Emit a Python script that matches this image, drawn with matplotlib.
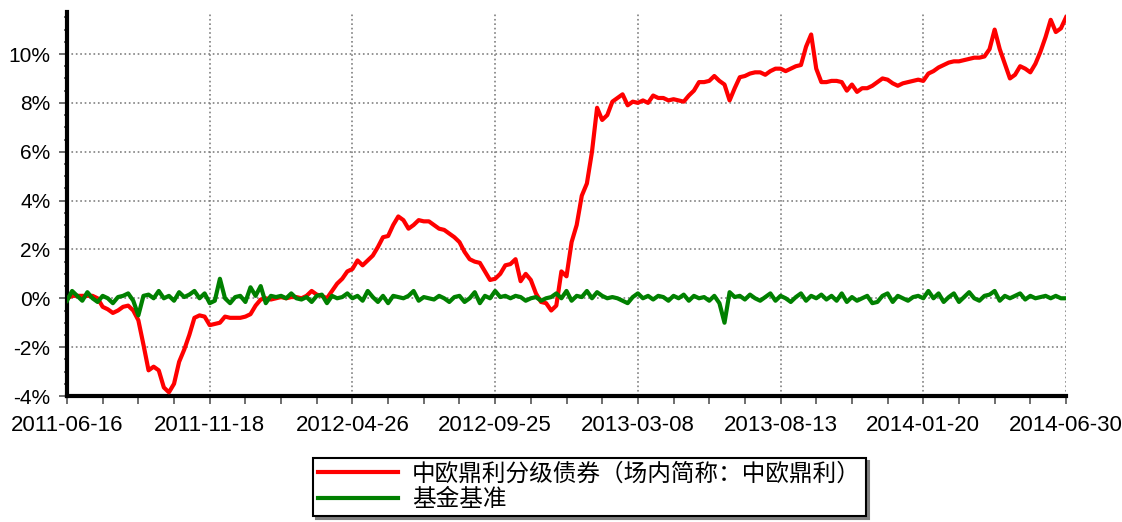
import numpy as np
import matplotlib
matplotlib.use('Agg')
import matplotlib.pyplot as plt
from matplotlib.ticker import FixedLocator, MultipleLocator, FuncFormatter

# trading-day samples (every ~3.8 trading days), cumulative return in %
tick_labels = ['2011-06-16', '2011-11-18', '2012-04-26', '2012-09-25',
               '2013-03-08', '2013-08-13', '2014-01-20', '2014-06-30']

fund = [
    0.0, 0.1, 0.1, 0.1, 0.1, 0.1, 0.0, -0.35, -0.45, -0.6,
    -0.5, -0.35, -0.3, -0.5, -0.9, -1.9, -2.95, -2.8, -2.95, -3.65,
    -3.85, -3.5, -2.6, -2.1, -1.5, -0.8, -0.7, -0.75, -1.1, -1.05,
    -1.0, -0.75, -0.8, -0.8, -0.8, -0.75, -0.65, -0.3, -0.05, 0.0,
    -0.05, 0.0, 0.05, 0.0, 0.05, 0.05, 0.0, 0.1, 0.3, 0.15,
    0.1, 0.0, 0.3, 0.6, 0.8, 1.1, 1.2, 1.55, 1.35, 1.55,
    1.75, 2.1, 2.5, 2.55, 3.0, 3.35, 3.2, 2.85, 3.0, 3.2,
    3.15, 3.15, 3.0, 2.85, 2.8, 2.65, 2.5, 2.3, 1.9, 1.6,
    1.5, 1.45, 1.1, 0.75, 0.8, 1.0, 1.35, 1.4, 1.6, 0.7,
    1.0, 0.75, 0.2, -0.15, -0.2, -0.5, -0.3, 1.1, 0.9, 2.3,
    3.0, 4.2, 4.7, 6.0, 7.8, 7.3, 7.5, 8.05, 8.2, 8.35,
    7.9, 8.05, 8.0, 8.1, 8.0, 8.3, 8.2, 8.2, 8.1, 8.15,
    8.1, 8.05, 8.3, 8.5, 8.85, 8.85, 8.9, 9.1, 8.9, 8.75,
    8.1, 8.6, 9.05, 9.1, 9.2, 9.25, 9.25, 9.15, 9.3, 9.4,
    9.4, 9.3, 9.4, 9.5, 9.55, 10.3, 10.8, 9.4, 8.85, 8.85,
    8.9, 8.9, 8.85, 8.5, 8.75, 8.45, 8.6, 8.6, 8.7, 8.85,
    9.0, 8.95, 8.8, 8.7, 8.8, 8.85, 8.9, 8.95, 8.9, 9.2,
    9.3, 9.45, 9.55, 9.65, 9.7, 9.7, 9.75, 9.8, 9.85, 9.85,
    9.9, 10.2, 11.0, 10.2, 9.6, 9.0, 9.15, 9.5, 9.4, 9.25,
    9.6, 10.1, 10.7, 11.4, 10.9, 11.05, 11.5,
]

bench = [
    -0.1, 0.3, 0.1, -0.1, 0.25, 0.0, -0.15, 0.1, 0.0, -0.2,
    0.05, 0.1, 0.2, -0.1, -0.7, 0.1, 0.15, 0.0, 0.3, 0.0,
    0.1, -0.1, 0.25, 0.05, 0.15, 0.3, 0.0, 0.2, -0.2, -0.1,
    0.8, 0.0, -0.2, 0.05, 0.1, -0.15, 0.45, 0.1, 0.5, -0.2,
    0.1, 0.05, 0.1, 0.0, 0.2, 0.0, -0.05, 0.05, -0.15, 0.1,
    0.15, -0.2, 0.1, 0.0, 0.05, 0.2, 0.0, 0.1, -0.1, 0.3,
    0.05, -0.15, 0.1, -0.2, 0.1, 0.05, 0.0, 0.1, 0.3, -0.1,
    0.05, 0.0, -0.05, 0.1, 0.0, -0.15, 0.05, 0.1, -0.15, 0.0,
    0.25, -0.2, 0.1, 0.0, 0.3, 0.05, 0.1, 0.0, 0.1, 0.05,
    -0.1, 0.0, 0.05, -0.1, 0.0, 0.05, 0.2, 0.0, 0.3, -0.1,
    0.1, 0.05, 0.3, 0.0, 0.25, 0.1, 0.0, 0.05, 0.0, -0.1,
    -0.2, 0.05, 0.2, 0.0, 0.1, -0.05, 0.1, 0.05, -0.1, 0.1,
    0.0, 0.15, -0.1, 0.1, 0.0, 0.05, -0.1, 0.1, -0.2, -1.0,
    0.25, 0.05, 0.1, -0.05, 0.15, 0.0, -0.1, 0.05, 0.2, -0.1,
    0.1, 0.0, -0.15, 0.05, 0.2, -0.1, 0.1, 0.0, 0.15, -0.05,
    0.1, -0.1, 0.2, -0.15, 0.05, -0.1, 0.0, 0.1, -0.2, -0.15,
    0.1, 0.2, -0.15, 0.1, 0.0, -0.1, 0.05, 0.1, 0.0, 0.3,
    0.0, 0.2, -0.15, 0.05, 0.2, -0.15, 0.05, 0.25, 0.0, -0.1,
    0.1, 0.15, 0.3, -0.1, 0.1, 0.0, 0.1, 0.2, -0.05, 0.1,
    0.0, 0.05, 0.1, 0.0, 0.1, 0.0, 0.0,
]

plt.rcParams['font.family'] = ['Liberation Sans', 'DejaVu Sans']

fig = plt.figure(figsize=(11.22, 5.22), dpi=100)
ax = fig.add_axes([67 / 1122, 1 - 396 / 522, 999 / 1122, 384 / 522])

x = np.arange(len(fund))
ax.plot(x, fund, color='#ff0000', lw=3, label='中欧鼎利分级债券（场内简称：中欧鼎利）', zorder=3)
ax.plot(x, bench, color='#008000', lw=3, label='基金基准', zorder=4)

n = len(fund) - 1
ax.set_xlim(0, n)
ax.set_ylim(-4, 11.72)

ax.xaxis.set_major_locator(FixedLocator(np.linspace(0, n, len(tick_labels))))
ax.xaxis.set_minor_locator(FixedLocator(np.linspace(0, n, 4 * (len(tick_labels) - 1) + 1)))
ax.set_xticklabels(tick_labels)
ax.yaxis.set_major_locator(MultipleLocator(2))
ax.yaxis.set_minor_locator(MultipleLocator(0.5))
ax.yaxis.set_major_formatter(FuncFormatter(lambda v, p: '%d%%' % v))

ax.tick_params(axis='both', which='major', color='#555555', length=6, width=1.2)
ax.tick_params(axis='x', which='major', labelsize=16, pad=8)
ax.tick_params(axis='y', which='major', labelsize=15, pad=6)
ax.tick_params(axis='x', which='minor', color='#555555', length=6, width=1.2)
ax.tick_params(axis='y', which='minor', color='#555555', length=2, width=1.2)

ax.grid(True, which='major', linestyle=':', color='#808080', lw=1.2)
for s in ['top', 'right']:
    ax.spines[s].set_visible(False)
for s in ['left', 'bottom']:
    ax.spines[s].set_linewidth(3)
    ax.spines[s].set_color('black')

# legend box below the axes, black frame with grey drop shadow
leg = fig.legend(loc='upper left', bbox_to_anchor=(313 / 1122, 1 - 458 / 522),
                 borderaxespad=0, fancybox=False, edgecolor='black',
                 shadow={'color': '#808080', 'alpha': 1},
                 prop={'family': ['Noto Sans CJK SC', 'DejaVu Sans'], 'size': 17},
                 handlelength=3.4, handletextpad=0.6, labelspacing=0.1,
                 borderpad=0.2, framealpha=1)
leg.get_frame().set_linewidth(1.5)
for h in leg.legend_handles:
    h.set_linewidth(3)

fig.savefig('out.png', dpi=100)
